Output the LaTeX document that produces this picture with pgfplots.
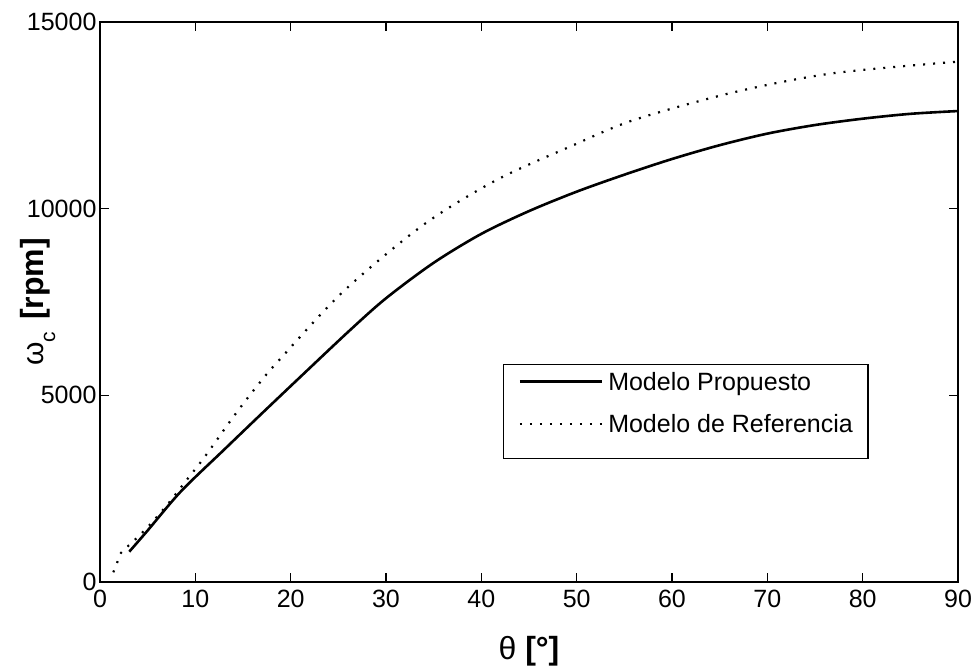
\documentclass[border=0pt]{standalone}
\usepackage{fontspec}
\setmainfont{Liberation Sans}
\usepackage{pgfplots}
\usepackage{pgfplotstable}
\pgfplotsset{compat=1.18}

% theta [deg]   omega_c [rpm]
\pgfplotstableread{
th    w
3.07  812
5     1380
8.5   2430
13    3540
17    4520
21    5490
26.2  6740
30    7600
35    8550
40    9325
45    9935
50    10455
55    10910
60    11330
65    11700
70    12010
75    12240
80    12410
85    12540
90    12615
}\propuesto

\pgfplotstableread{
th    w
1.4   260
1.8   520
2.2   780
3.5   1090
5     1470
7     2050
9.09  2732
10.66 3241
12.13 3758
13.57 4278
15.14 4814
16.79 5350
18.64 5901
25.5  7777
33.9  9563
41.6  10769
49.3  11661
56    12375
66.5  13118
76.9  13627
90    13938
}\referencia

\begin{document}
\begin{tikzpicture}
\useasboundingbox (-100pt,-87pt) rectangle (873pt,582pt);
\begin{axis}[
  scale only axis,
  width=858pt, height=560pt,
  xmin=0, xmax=90, ymin=0, ymax=15000,
  xtick={0,10,...,90},
  ytick={0,5000,10000,15000},
  scaled y ticks=false,
  tick align=inside,
  major tick length=9pt,
  axis line style={line width=1.3pt, black},
  tick style={line width=1.3pt, black},
  /pgf/number format/assume math mode=true,
  /pgf/number format/1000 sep={},
  tick label style={font=\fontsize{25}{28}\selectfont},
  x tick label style={yshift=-5pt},
  xlabel={θ\ \textbf{[°]}},
  xlabel style={font=\fontsize{32}{36}\selectfont, at={(axis description cs:0.5,-0.1375)}, anchor=base},
  ylabel={{\fontsize{30}{32}\selectfont ω}\raisebox{-12pt}{\fontsize{21}{24}\selectfont c}\hspace{12pt}\textbf{[rpm]}},
  ylabel style={font=\fontsize{32}{36}\selectfont, at={(axis description cs:-0.0664,0.5)}, anchor=base, rotate=0},
  legend cell align=left,
  legend image code/.code={\draw[#1] (0pt,9pt) -- (82pt,9pt);},
  legend style={
    at={(axis description cs:0.4697,0.3893)}, anchor=north west,
    draw=black, line width=1.3pt,
    font=\fontsize{25}{28}\selectfont,
    inner xsep=15pt, inner ysep=8pt,
    row sep=6pt, column sep=5pt,
    nodes={inner sep=0pt, text height=18pt, text depth=18pt},
  },
]
\addplot[black, line width=2.6pt, smooth] table[x=th, y=w] {\propuesto};
\addlegendentry{Modelo Propuesto}
\addplot[black, line width=2.2pt, smooth, dash pattern=on 2pt off 8pt] table[x=th, y=w] {\referencia};
\addlegendentry{Modelo de Referencia}
\end{axis}
\end{tikzpicture}
\end{document}
